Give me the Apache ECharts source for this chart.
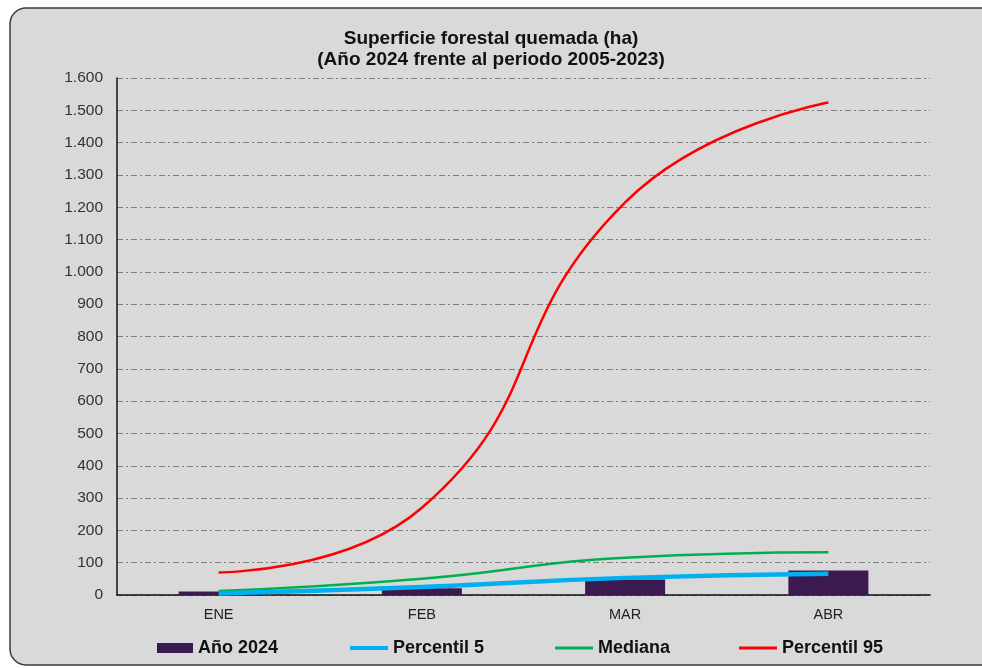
<!DOCTYPE html>
<html>
<head>
<meta charset="utf-8">
<script src="https://cdn.jsdelivr.net/npm/echarts@6/dist/echarts.min.js"></script>
<style>
html,body{margin:0;padding:0;background:#fff;}
#c{width:982px;height:668px;}
</style>
</head>
<body>
<div id="c"></div>
<script>
const categories = ['ENE', 'FEB', 'MAR', 'ABR'];
const ano2024 = [11, 21, 48, 76];
const percentil5 = [5, 25, 53, 66];
const mediana = [12, 50, 115, 132];
const percentil95 = [70, 270, 1215, 1524];
const titleLines = ['Superficie forestal quemada (ha)', '(Año 2024 frente al periodo 2005-2023)'];

const FONT = 'Liberation Sans, Arial, sans-serif';
const fmt = v => String(v).replace(/\B(?=(\d{3})+(?!\d))/g, '.');

const chart = echarts.init(document.getElementById('c'), null, {renderer: 'canvas'});
const legendText = {fontFamily: FONT, fontSize: 18, fontWeight: 'bold', color: '#111'};
chart.setOption({
  backgroundColor: '#ffffff',
  animation: false,
  graphic: [{
    type: 'rect', z: -10, silent: true,
    shape: {x: 10, y: 8, width: 1000, height: 657, r: 16},
    style: {fill: '#d9d9d9', stroke: '#3a3a3a', lineWidth: 1.5}
  }],
  title: {
    text: titleLines.join('\n'),
    left: 'center', top: 23,
    textStyle: {fontFamily: FONT, fontSize: 19, fontWeight: 'bold', color: '#111', lineHeight: 21}
  },
  legend: [
    {data: ['Año 2024'], left: 152, top: 634, itemWidth: 36, itemHeight: 10, textStyle: legendText, icon: 'rect'},
    {data: ['Percentil 5'], left: 345, top: 634, itemWidth: 38, itemHeight: 4, textStyle: legendText, icon: 'rect'},
    {data: ['Mediana'], left: 550, top: 634, itemWidth: 38, itemHeight: 3, textStyle: legendText, icon: 'rect'},
    {data: ['Percentil 95'], left: 734, top: 634, itemWidth: 38, itemHeight: 3, textStyle: legendText, icon: 'rect'}
  ],
  grid: {left: 117, right: 52, top: 78, bottom: 73},
  xAxis: {
    type: 'category', data: categories,
    axisLine: {lineStyle: {color: '#111', width: 1.5}},
    axisTick: {show: false},
    axisLabel: {fontFamily: FONT, fontSize: 14.5, color: '#222', margin: 12}
  },
  yAxis: {
    type: 'value', min: 0, max: 1600, interval: 100,
    axisLine: {show: true, lineStyle: {color: '#111', width: 1.5}},
    axisTick: {show: false},
    axisLabel: {fontFamily: FONT, fontSize: 15.5, color: '#333', margin: 14, formatter: fmt},
    splitLine: {lineStyle: {color: '#808080', width: 1, type: [6, 3, 2, 3]}}
  },
  series: [
    {name: 'Año 2024', type: 'bar', data: ano2024, barWidth: 80,
     itemStyle: {color: '#3b1a4f'}, z: 2},
    {name: 'Percentil 5', type: 'line', data: percentil5, smooth: 0.5, symbol: 'none',
     lineStyle: {color: '#00b0f0', width: 4.5}, itemStyle: {color: '#00b0f0'}, z: 5},
    {name: 'Mediana', type: 'line', data: mediana, smooth: 0.5, symbol: 'none',
     lineStyle: {color: '#00b050', width: 2.5}, itemStyle: {color: '#00b050'}, z: 4},
    {name: 'Percentil 95', type: 'line', data: percentil95, smooth: 0.5, symbol: 'none',
     lineStyle: {color: '#ff0000', width: 2.5}, itemStyle: {color: '#ff0000'}, z: 6}
  ]
});
</script>
</body>
</html>
